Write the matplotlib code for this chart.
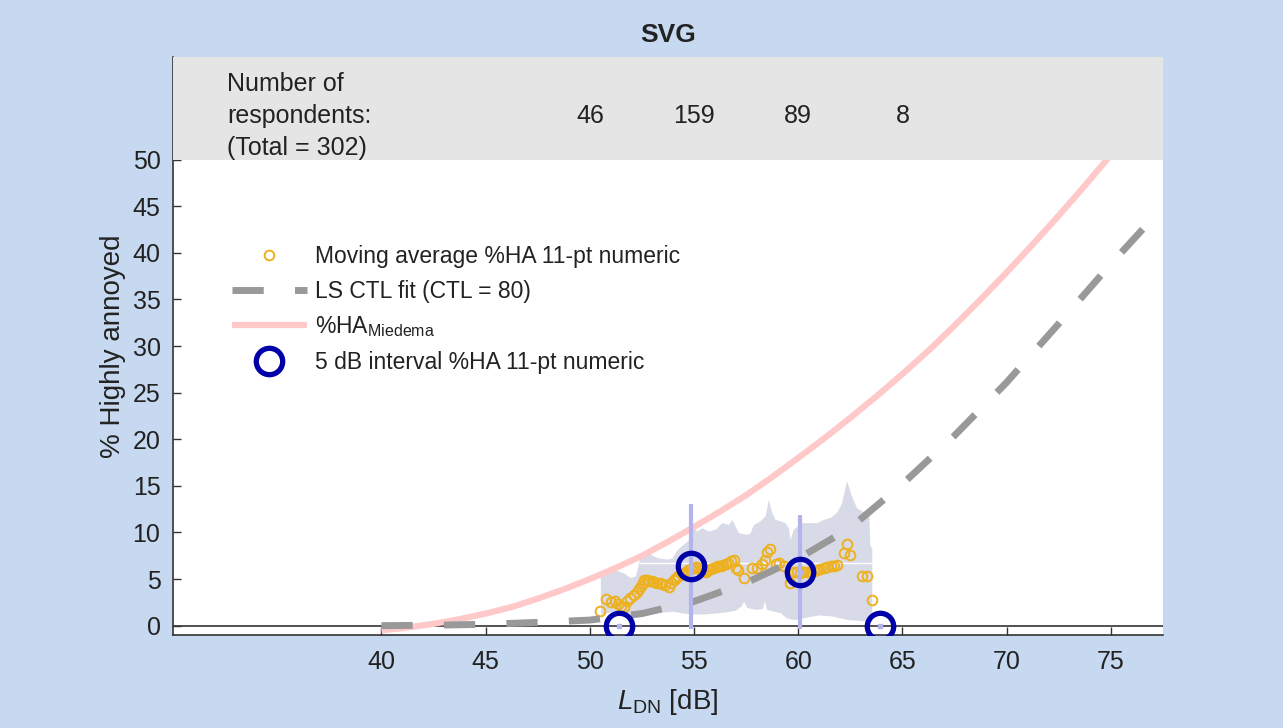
import matplotlib.pyplot as plt

plt.rcParams['font.family'] = ['Liberation Sans', 'DejaVu Sans']
plt.rcParams['mathtext.fontset'] = 'custom'
plt.rcParams['mathtext.rm'] = 'Liberation Sans'
plt.rcParams['mathtext.it'] = 'Liberation Sans:italic'
plt.rcParams['mathtext.bf'] = 'Liberation Sans:bold'

# ---- data ----
# moving average %HA (11-pt numeric)
ma_x = [50.5, 50.77, 51.0, 51.2, 51.35, 51.5, 51.65, 51.8, 51.93, 52.1, 52.25, 52.37,
        52.45, 52.53, 52.6, 52.73, 52.85, 52.97, 53.1, 53.22, 53.35, 53.47, 53.63, 53.8,
        53.9, 54.04, 54.14, 54.24, 54.4, 54.5, 54.6, 54.72, 54.84, 54.96, 55.08, 55.2,
        55.32, 55.44, 55.56, 55.68, 55.8, 55.92, 56.04, 56.16, 56.28, 56.4, 56.52, 56.64,
        56.76, 56.9, 57.03, 57.1, 57.39, 57.79, 58.0, 58.27, 58.4, 58.51, 58.64, 58.91,
        59.07, 59.31, 59.6, 59.8, 59.95, 60.1, 60.25, 60.4, 60.6, 60.75, 60.9, 61.05,
        61.23, 61.4, 61.55, 61.7, 61.87, 62.19, 62.35, 62.47, 63.07, 63.31, 63.55]
ma_y = [1.6, 2.85, 2.5, 2.6, 2.3, 2.1, 2.0, 2.6, 3.0, 3.3, 3.6, 3.9,
        4.3, 4.6, 4.85, 4.9, 4.8, 4.75, 4.7, 4.6, 4.55, 4.5, 4.4, 4.2,
        4.6, 4.9, 5.1, 5.3, 5.5, 5.65, 5.8, 5.95, 6.1, 6.2, 6.3, 6.15,
        6.0, 5.9, 5.8, 5.95, 6.05, 6.15, 6.3, 6.35, 6.4, 6.5, 6.65, 6.75,
        6.9, 7.05, 6.2, 6.0, 5.1, 6.2, 6.2, 6.6, 7.0, 7.95, 8.2, 6.6,
        6.7, 6.4, 4.55, 5.8, 5.75, 5.7, 5.75, 5.8, 5.8, 5.9, 6.0, 6.1,
        6.2, 6.3, 6.4, 6.45, 6.55, 7.8, 8.8, 7.6, 5.3, 5.3, 2.8]

# confidence band around the moving average
band_top_x = [50.53, 51.17, 51.65, 51.97, 52.21, 52.35, 52.45, 52.77, 53.0, 53.33, 53.73,
              53.97, 54.2, 54.52, 54.84, 54.92, 55.16, 55.4, 55.72, 56.04, 56.36, 56.68,
              56.84, 57.0, 57.16, 57.56, 57.71, 57.87, 58.19, 58.43, 58.59, 58.75, 58.91,
              59.15, 59.39, 59.55, 59.63, 59.79, 60.19, 60.59, 60.91, 61.23, 61.55, 61.86,
              62.1, 62.34, 62.58, 62.82, 63.1, 63.4, 63.46, 63.55]
band_top = [5.6, 6.0, 5.6, 5.1, 5.3, 6.5, 7.6, 8.0, 7.5, 7.2, 7.1,
            7.2, 8.1, 8.7, 9.3, 10.6, 10.1, 10.45, 10.1, 10.3, 11.0, 10.8,
            11.35, 10.6, 9.9, 9.75, 9.9, 10.8, 11.2, 11.7, 13.5, 12.1, 11.35,
            11.2, 11.0, 10.45, 9.2, 10.3, 11.0, 11.0, 11.0, 11.35, 11.55, 12.1,
            13.1, 15.5, 13.85, 12.6, 12.2, 12.4, 8.5, 8.3]
band_bot_x = [50.53, 51.0, 51.5, 52.0, 52.5, 53.0, 53.5, 54.0, 54.5, 55.0, 55.5, 56.0,
              56.5, 57.0, 57.3, 57.4, 57.55, 58.0, 58.3, 58.4, 58.5, 58.85, 59.15, 59.45,
              59.8, 60.5, 61.0, 61.6, 62.4, 63.0, 63.55]
band_bot = [1.2, 1.4, 1.4, 1.3, 1.2, 1.3, 1.4, 1.5, 1.3, 1.2, 1.2, 1.3,
            1.4, 1.6, 2.1, 2.6, 1.9, 1.7, 1.8, 2.6, 1.7, 1.5, 1.35, 0.8,
            0.6, 0.9, 1.1, 1.0, 0.6, 0.5, 0.4]
mean_x = [52.4, 63.55]
mean_y = [6.7, 6.7]

# least squares CTL fit (CTL = 80)
ctl_x = [40, 42.5, 45, 47.5, 50, 52.5, 55, 57.5, 60, 62.5, 65, 67.5, 70, 72.5, 75, 77.5]
ctl_y = [0.0, 0.05, 0.15, 0.35, 0.6, 1.3, 2.6, 4.6, 7.2, 10.5, 15.2, 20.4, 26.1, 32.4, 38.8, 44.9]

# Miedema curve
mied_x = [40, 41.25, 42.5, 43.75, 45, 46.25, 47.5, 48.75, 50, 51.25, 52.5, 53.75, 55,
          56.25, 57.5, 58.75, 60, 61.25, 62.5, 63.75, 65, 66.25, 67.5, 68.75, 70, 71.25,
          72.5, 73.75, 75, 76.25]
mied_y = [-0.5, -0.2, 0.2, 0.7, 1.3, 2.0, 2.9, 3.9, 5.0, 6.2, 7.5, 9.0, 10.6,
          12.25, 14.0, 15.95, 18.0, 20.1, 22.3, 24.6, 27.0, 29.5, 32.2, 35.0, 37.9, 40.9,
          44.0, 47.2, 50.5, 54.0]

# 5 dB interval %HA with error bars
int_x = [51.4, 54.85, 60.1, 63.9]
int_y = [0.0, 6.35, 5.75, 0.0]
int_lo = [0.0, 6.75, 6.15, 0.0]
int_hi = [0.0, 6.75, 6.15, 0.0]

# respondents per interval
resp_x = [50, 55, 60, 65]
resp_n = [46, 159, 89, 8]

xticks = [40, 45, 50, 55, 60, 65, 70, 75]
yticks = [0, 5, 10, 15, 20, 25, 30, 35, 40, 45, 50]

# ---- figure ----
txt = '#222222'
fig = plt.figure(figsize=(12.83, 7.28), dpi=100, facecolor='#c6d9f0')
ax = fig.add_axes([173/1283, 93/728, 990/1283, 578/728])
ax.set_facecolor('white')

ax.fill(band_top_x + band_bot_x[::-1], band_top + band_bot[::-1],
        color='#d9dae8', lw=0, zorder=1)
ax.plot(mean_x, mean_y, color='white', lw=1, zorder=1.5)

ax.plot(ma_x, ma_y, 'o', mfc='none', mec='#EDB120', ms=7, mew=1.4, zorder=3,
        label='Moving average %HA 11-pt numeric')
ax.plot(ctl_x, ctl_y, color='#999999', lw=5, linestyle=(0, (4.5, 4.5)), zorder=3.5,
        label='LS CTL fit (CTL = 80)')
ax.plot(mied_x, mied_y, color='#ffc9c9', lw=4.5, solid_capstyle='butt', zorder=2.5,
        label='%HA$_{\\mathregular{Miedema}}$')
ax.errorbar(int_x, int_y, yerr=[int_lo, int_hi], fmt='s', ms=3, color='#b4b4ec',
            ecolor='#b4b4ec', elinewidth=3, capsize=0, zorder=4)
ax.plot(int_x, int_y, 'o', mfc='none', mec='#0000a8', ms=19, mew=3.8, zorder=5,
        label='5 dB interval %HA 11-pt numeric')

ax.axhline(0, color='#333333', lw=1.2, zorder=2)

# grey band with respondent counts
ax.axhspan(50, 61, color='#e5e5e5', lw=0, zorder=6)
ax.text(32.6, 54.7, 'Number of\nrespondents:\n(Total = 302)', fontsize=18,
        color=txt, va='center', ha='left', linespacing=1.42, zorder=7)
for x, n in zip(resp_x, resp_n):
    ax.text(x, 54.7, str(n), fontsize=18, color=txt, ha='center', va='center', zorder=7)

ax.set_xlim(30, 77.5)
ax.set_ylim(-1, 61)
ax.set_xticks(xticks)
ax.set_yticks(yticks)
ax.tick_params(direction='in', length=6, width=1, colors='#333333', labelcolor=txt,
               labelsize=18)
ax.tick_params(axis='x', pad=11)
ax.tick_params(axis='y', pad=9)
for s in ['top', 'right']:
    ax.spines[s].set_visible(False)
for s in ['left', 'bottom']:
    ax.spines[s].set_color('#333333')
    ax.spines[s].set_linewidth(1.2)

ax.set_xlabel('$\\mathit{L}_{\\mathregular{DN}}$ [dB]', fontsize=20, color=txt, labelpad=9)
ax.set_ylabel('% Highly annoyed', fontsize=20, color=txt, labelpad=5)
ax.set_title('SVG', fontsize=19, fontweight='bold', color=txt, pad=11)

ax.legend(loc='upper left', bbox_to_anchor=(0.05, 0.69), borderaxespad=0, frameon=False,
          fontsize=16.5, handlelength=3.3, handletextpad=0.35, labelspacing=0.5,
          labelcolor=txt)

fig.savefig('out.png', dpi=100, facecolor=fig.get_facecolor())
